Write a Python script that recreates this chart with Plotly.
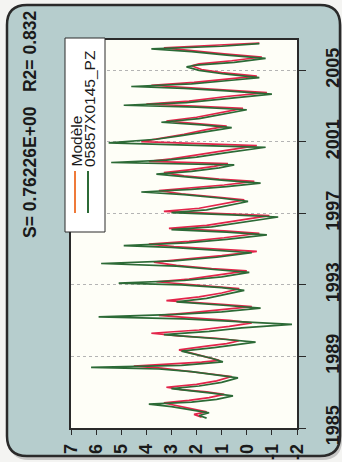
import plotly.graph_objects as go

# Observation dates (decimal years) and observed level at 05857X0145_PZ
t_observe = [
    1985.55, 1985.70, 1985.85, 1986.05, 1986.20, 1986.33, 1986.45, 1986.60, 1986.80, 1986.95,
    1987.10, 1987.20, 1987.35, 1987.55, 1987.80, 1987.95, 1988.15, 1988.30, 1988.39, 1988.50,
    1988.60, 1988.70, 1988.90, 1989.10, 1989.30, 1989.50, 1989.65, 1989.80, 1989.95, 1990.10,
    1990.22, 1990.40, 1990.60, 1990.80, 1990.95, 1991.10, 1991.22, 1991.35, 1991.50, 1991.70,
    1991.85, 1991.95, 1992.05, 1992.25, 1992.45, 1992.70, 1992.85, 1993.00, 1993.10, 1993.25,
    1993.45, 1993.70, 1993.85, 1994.05, 1994.20, 1994.35, 1994.55, 1994.80, 1994.95, 1995.10,
    1995.20, 1995.35, 1995.55, 1995.80, 1995.95, 1996.10, 1996.25, 1996.50, 1996.80, 1996.92,
    1997.05, 1997.20, 1997.45, 1997.67, 1997.85, 1998.05, 1998.20, 1998.35, 1998.50, 1998.70,
    1998.85, 1999.05, 1999.20, 1999.35, 1999.55, 1999.72, 1999.85, 1999.98, 2000.15, 2000.40,
    2000.70, 2000.95, 2001.15, 2001.35, 2001.60, 2001.80, 2001.95, 2002.10, 2002.30, 2002.55,
    2002.80, 2002.95, 2003.05, 2003.20, 2003.45, 2003.67, 2003.85, 2004.00, 2004.10, 2004.25,
    2004.45, 2004.60, 2004.80, 2005.00, 2005.20, 2005.30, 2005.45, 2005.67, 2005.85, 2006.05,
    2006.20, 2006.35, 2006.50,
]
observe = [
    1.6, 1.9, 1.5, 2.4, 3.0, 3.9, 2.2, 1.2, 0.55, 1.4,
    2.4, 3.0, 1.9, 1.0, 0.35, 1.2, 2.2, 3.5, 6.2, 2.6,
    1.6, 0.95, 1.4, 2.0, 2.6, 1.3, 0.4, -0.35, 0.8, 2.2,
    3.3, 1.5, 0.2, -1.8, 0.3, 2.5, 5.9, 2.8, 1.0, -0.55,
    0.8, 2.0, 2.8, 1.6, 0.9, 0.1, 1.0, 2.6, 5.1, 2.5,
    1.0, -0.1, 1.2, 2.8, 5.8, 2.9, 1.2, -0.2, 1.3, 3.0,
    4.9, 2.4, 0.8, -0.8, 0.8, 3.0, 1.4, 0.2, -1.25, 0.6,
    3.0, 1.6, 0.7, -0.05, 1.0, 2.5, 4.2, 2.2, 0.8, -0.55,
    0.9, 2.4, 3.6, 2.2, 1.1, 0.5, 5.4, 3.2, 2.0, 0.8,
    -0.75, 5.5, 3.6, 2.6, 1.5, 0.6, 1.8, 3.4, 1.9, 0.9,
    0.0, 2.0, 4.9, 2.4, 0.6, -1.0, 0.8, 2.5, 4.6, 2.2,
    0.6, -0.5, 0.9, 1.9, 2.4, 2.0, 0.5, -0.75, 0.8, 2.2,
    3.8, 1.0, -0.5,
]

# Model output dates (decimal years) and simulated level (Modèle)
t_modele = [
    1985.60, 1985.76, 1985.90, 1986.10, 1986.27, 1986.40, 1986.55, 1986.70, 1986.88, 1987.02,
    1987.15, 1987.28, 1987.44, 1987.64, 1987.88, 1988.02, 1988.20, 1988.35, 1988.46, 1988.58,
    1988.68, 1988.78, 1988.96, 1989.15, 1989.37, 1989.58, 1989.72, 1989.88, 1990.02, 1990.15,
    1990.30, 1990.48, 1990.68, 1990.88, 1991.02, 1991.16, 1991.30, 1991.44, 1991.60, 1991.79,
    1991.92, 1992.02, 1992.12, 1992.33, 1992.55, 1992.79, 1992.92, 1993.06, 1993.18, 1993.33,
    1993.55, 1993.79, 1993.92, 1994.10, 1994.28, 1994.44, 1994.64, 1994.88, 1995.02, 1995.15,
    1995.28, 1995.44, 1995.64, 1995.89, 1996.02, 1996.17, 1996.33, 1996.59, 1996.88, 1996.98,
    1997.12, 1997.29, 1997.55, 1997.76, 1997.92, 1998.10, 1998.28, 1998.44, 1998.59, 1998.79,
    1998.92, 1999.10, 1999.28, 1999.44, 1999.63, 1999.79, 1999.91, 2000.05, 2000.23, 2000.49,
    2000.79, 2001.02, 2001.22, 2001.43, 2001.69, 2001.88, 2002.02, 2002.17, 2002.38, 2002.64,
    2002.88, 2003.01, 2003.12, 2003.28, 2003.54, 2003.76, 2003.92, 2004.05, 2004.17, 2004.33,
    2004.54, 2004.68, 2004.88, 2005.05, 2005.26, 2005.37, 2005.54, 2005.75, 2005.92, 2006.10,
    2006.26, 2006.42, 2006.52,
]
modele = [
    1.8, 2.1, 1.6, 2.3, 2.9, 3.3, 2.3, 1.5, 0.9, 1.6,
    2.6, 3.2, 2.0, 1.2, 0.6, 1.4, 2.4, 3.4, 4.5, 2.8,
    1.8, 1.1, 1.6, 2.1, 2.7, 1.6, 0.8, 0.3, 1.2, 2.7,
    3.8, 1.9, 0.7, -0.2, 0.7, 2.2, 3.5, 2.3, 1.1, -0.2,
    1.0, 2.3, 3.2, 1.9, 1.0, 0.3, 1.3, 2.7, 3.6, 2.3,
    1.1, 0.0, 1.4, 2.8, 3.7, 2.4, 1.0, -0.4, 1.2, 2.9,
    3.9, 2.3, 0.9, -0.5, 0.9, 3.1, 1.6, 0.4, -0.9, 0.8,
    3.3, 1.9, 0.9, 0.1, 1.2, 2.6, 3.5, 2.1, 0.9, -0.3,
    1.1, 2.5, 3.3, 2.3, 1.3, 0.75, 3.9, 3.0, 2.2, 1.0,
    -0.4, 4.2, 3.3, 2.5, 1.6, 0.8, 2.0, 3.2, 2.0, 1.0,
    0.15, 2.1, 4.0, 2.3, 0.8, -0.8, 0.9, 2.4, 3.8, 2.1,
    0.7, -0.4, 1.0, 1.8, 2.2, 1.9, 0.6, -0.6, 0.9, 2.1,
    3.3, 1.1, -0.5,
]

level_ticks = [7, 6, 5, 4, 3, 2, 1, 0, -1, -2]
year_ticks = [1985, 1989, 1993, 1997, 2001, 2005]

title_text = "S= 0.76226E+00   R2= 0.832"
legend_names = ["Modèle", "05857X0145_PZ"]

RED = "#e3244a"
GREEN = "#2c6a36"
PANEL = "#b6cdcd"
INK = "#2a2a2a"

# Page layout (pixels): plot frame edges
FW, FH = 342, 462
L, R, T, B = 71, 297, 40, 428
W, H = R - L, B - T


def px(x):
    return (x - L) / W


def py(y):
    return (B - y) / H


def rounded_path(x0, y0, x1, y1, r):
    pts = [
        ("M", [(x0 + r, y0)]),
        ("L", [(x1 - r, y0)]),
        ("Q", [(x1, y0), (x1, y0 + r)]),
        ("L", [(x1, y1 - r)]),
        ("Q", [(x1, y1), (x1 - r, y1)]),
        ("L", [(x0 + r, y1)]),
        ("Q", [(x0, y1), (x0, y1 - r)]),
        ("L", [(x0, y0 + r)]),
        ("Q", [(x0, y0), (x0 + r, y0)]),
    ]
    out = []
    for cmd, coords in pts:
        out.append(cmd + " ".join(f"{px(a):.5f},{py(b):.5f}" for a, b in coords))
    return " ".join(out) + " Z"


fig = go.Figure()

fig.add_trace(go.Scatter(
    x=modele, y=t_modele, mode="lines", name=legend_names[0],
    line=dict(color=RED, width=1.7), showlegend=False,
))
fig.add_trace(go.Scatter(
    x=observe, y=t_observe, mode="lines", name=legend_names[1],
    line=dict(color=GREEN, width=1.7), showlegend=False,
))

shapes = [
    # shadow under the panel
    dict(type="path", xref="paper", yref="paper", layer="below",
         path=rounded_path(9, 8, 342, 460, 20),
         fillcolor="#9a9a9a", opacity=0.5, line=dict(width=0)),
    # rounded panel
    dict(type="path", xref="paper", yref="paper", layer="below",
         path=rounded_path(7, 5, 340, 456, 20),
         fillcolor=PANEL, line=dict(color=INK, width=2.5)),
    # plotting area
    dict(type="rect", xref="paper", yref="paper", layer="below",
         x0=0, x1=1, y0=0, y1=1, fillcolor="#fefef7", line=dict(width=0)),
    # legend box
    dict(type="rect", xref="paper", yref="paper", layer="above",
         x0=px(65), x1=px(105), y0=py(232), y1=py(38),
         fillcolor="white", line=dict(color=INK, width=1)),
    # legend samples
    dict(type="line", xref="paper", yref="paper", layer="above",
         x0=px(75), x1=px(75), y0=py(213), y1=py(171),
         line=dict(color="#ef7a3a", width=2)),
    dict(type="line", xref="paper", yref="paper", layer="above",
         x0=px(88), x1=px(88), y0=py(213), y1=py(171),
         line=dict(color=GREEN, width=2)),
]

annotations = [
    dict(text="<b>" + title_text + "</b>", xref="paper", yref="paper",
         x=px(30), y=py(125), xanchor="center", yanchor="middle",
         textangle=-90, showarrow=False,
         font=dict(family="Liberation Sans, Arial", size=17.5, color="#1a1a1a")),
    dict(text=legend_names[0], xref="paper", yref="paper",
         x=px(76), y=py(169), xanchor="center", yanchor="bottom",
         textangle=-90, showarrow=False,
         font=dict(family="Liberation Sans, Arial", size=15.5, color="#1a1a1a")),
    dict(text=legend_names[1], xref="paper", yref="paper",
         x=px(89), y=py(169), xanchor="center", yanchor="bottom",
         textangle=-90, showarrow=False,
         font=dict(family="Liberation Sans, Arial", size=15.5, color="#1a1a1a")),
]

tickfont = dict(family="Liberation Sans, Arial", size=18, color="#1a1a1a", weight="bold")

fig.update_layout(
    width=FW, height=FH,
    margin=dict(l=L, r=FW - R, t=T, b=FH - B, pad=0, autoexpand=False),
    paper_bgcolor="#f4f4f2",
    plot_bgcolor="rgba(0,0,0,0)",
    shapes=shapes,
    annotations=annotations,
    xaxis=dict(
        range=[7, -2], tickvals=level_ticks, ticktext=[str(v) for v in level_ticks],
        tickangle=-90, ticks="outside", ticklen=5, tickcolor=INK, tickwidth=1,
        showline=True, linecolor=INK, linewidth=1.5, mirror=True,
        showgrid=False, zeroline=False, tickfont=tickfont,
        ticklabelstandoff=2, automargin=False,
    ),
    yaxis=dict(
        range=[1985, 2006.7], side="right", tickvals=year_ticks,
        ticktext=[str(v) for v in year_ticks],
        tickangle=-90, ticks="outside", ticklen=7, tickcolor=INK, tickwidth=1,
        showline=True, linecolor=INK, linewidth=1.5, mirror=True,
        showgrid=True, gridcolor="#b4b4b4", gridwidth=1, griddash="dot",
        zeroline=False, tickfont=tickfont, ticklabelstandoff=12, automargin=False,
    ),
)

fig.write_html("out.html")
